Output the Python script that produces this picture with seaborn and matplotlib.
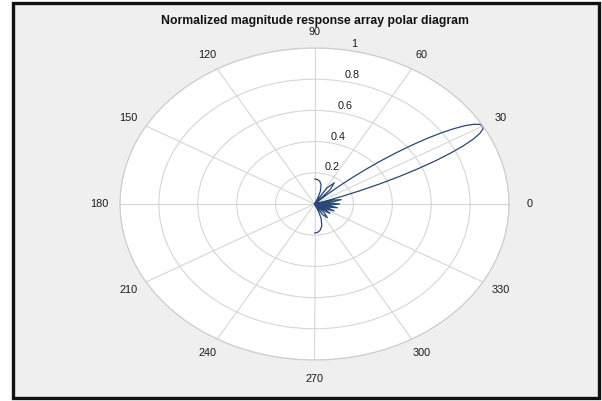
import numpy as np
import pandas as pd
import matplotlib
matplotlib.use("Agg")
import matplotlib.pyplot as plt
import matplotlib.transforms as mtransforms
from matplotlib.patches import Rectangle
import seaborn as sns

# ---------------- data ----------------
theta_deg = [
    -90, -85, -80, -75, -70, -68, -66, -64.16,
    -58.21, -53.13, -48.59, -44.43,
    -40.54, -36.87, -33.37, -30.0,
    -26.74, -23.58, -20.49, -17.46,
    -14.48, -11.54, -8.63, -5.74,
    -2.87, 0.0, 2.87, 5.74,
    8.63, 11.54, 14.48, 17.46,
    18, 19, 20, 21, 22, 23, 24, 25, 26, 27, 28, 29, 30,
    31, 32, 33, 34, 35, 36, 37, 38, 39, 40, 41, 42, 43, 44, 44.43,
    48.59, 53.13, 58.21, 64.16,
    66, 68, 70, 75, 80, 85, 90,
]
magnitude = [
    0.186, 0.183, 0.170, 0.145, 0.100, 0.070, 0.040, 0.0,
    0.078, 0.110, 0.078, 0.0,
    0.070, 0.100, 0.070, 0.0,
    0.078, 0.110, 0.078, 0.0,
    0.085, 0.120, 0.085, 0.0,
    0.092, 0.130, 0.092, 0.0,
    0.100, 0.140, 0.100, 0.0,
    0.048, 0.145, 0.249, 0.360, 0.471, 0.579, 0.681, 0.773, 0.852, 0.916, 0.962, 0.990, 1.0,
    0.991, 0.964, 0.921, 0.863, 0.794, 0.714, 0.628, 0.537, 0.444, 0.352, 0.262, 0.178, 0.099, 0.028, 0.0,
    0.120, 0.170, 0.120, 0.0,
    0.035, 0.060, 0.090, 0.130, 0.150, 0.158, 0.160,
]
angle_ticks = [0, 30, 60, 90, 120, 150, 180, 210, 240, 270, 300, 330]
angle_labels = [str(a) for a in angle_ticks]
radius_ticks = [0.2, 0.4, 0.6, 0.8, 1.0]
radius_labels = ["0.2", "0.4", "0.6", "0.8", "1"]
title_text = "Normalized magnitude response array polar diagram"

# ---------------- style ----------------
sns.set_theme(style="white")
plt.rcParams["font.family"] = ["Liberation Sans", "DejaVu Sans"]

W, H = 602, 401
fig = plt.figure(figsize=(W / 100, H / 100), dpi=100)
fig.patch.set_facecolor("white")

# gray framed panel (behind the axes)
panel = Rectangle((13 / W, 1 - 398 / H), (599 - 13) / W, (398 - 3) / H,
                  transform=fig.transFigure, facecolor="#efefef",
                  edgecolor="#111111", linewidth=2.4, zorder=-10)
fig.patches.append(panel)

ax = fig.add_axes([120 / W, (H - 360) / H, 389 / W, 312 / H], projection="polar")
ax.set_aspect("auto")
ax.set_facecolor("white")
ax.set_zorder(1)

df = pd.DataFrame({"theta": np.deg2rad(theta_deg), "r": magnitude})
sns.lineplot(data=df, x="theta", y="r", ax=ax, sort=False, estimator=None,
             color="#24497a", linewidth=0.9, legend=False)

ax.set_ylim(0, 1.0)
ax.set_yticks(radius_ticks)
ax.set_yticklabels([])
ax.set_xticks(np.deg2rad(angle_ticks))
ax.set_xticklabels([])
ax.grid(True, color="#d6d6d6", linewidth=0.8)
ax.spines["polar"].set_color("#cfcfcf")
ax.spines["polar"].set_linewidth(0.9)
ax.set_xlabel("")
ax.set_ylabel("")

# angle labels, placed just outside the outer ring (MATLAB style)
for a, lab in zip(angle_ticks, angle_labels):
    rr = 1.125 if a == 270 else 1.105
    ax.text(np.deg2rad(a), rr, lab, ha="center", va="center",
            fontsize=7.8, color="#1a1a1a", clip_on=False)

# radial labels
off = mtransforms.ScaledTranslation(0.03, 0.01, fig.dpi_scale_trans)
for rv, lab in zip(radius_ticks, radius_labels):
    ax.text(np.deg2rad(80), rv, lab, transform=ax.transData + off,
            ha="left", va="bottom", fontsize=7.8, color="#1a1a1a")

fig.text(315 / W, 1 - 21 / H, title_text, ha="center", va="center",
         fontsize=8.85, fontweight="bold", color="#111111")

fig.savefig("out.png", dpi=100, facecolor=fig.get_facecolor())
